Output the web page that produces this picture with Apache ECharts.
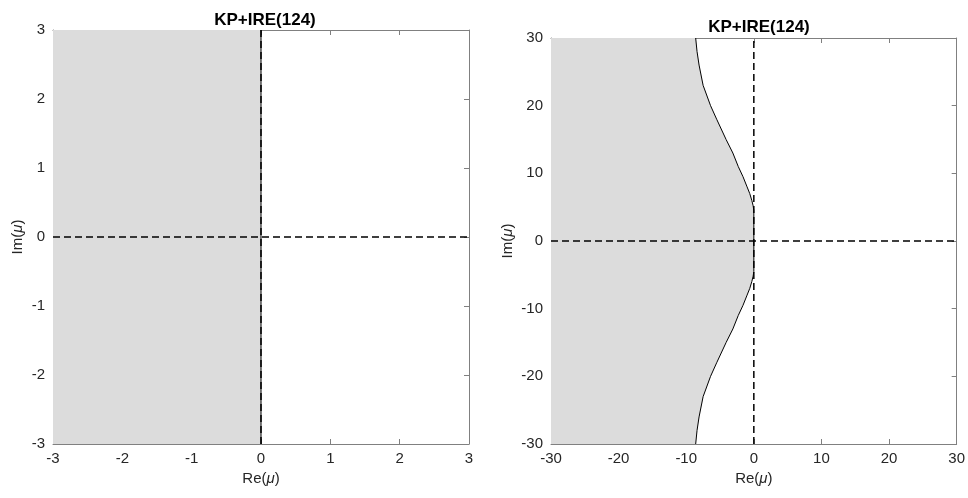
<!DOCTYPE html>
<html>
<head>
<meta charset="utf-8">
<script src="https://cdn.jsdelivr.net/npm/echarts@6/dist/echarts.min.js"></script>
<style>html,body{margin:0;padding:0;background:#fff}#c{width:968px;height:498px}</style>
</head>
<body>
<div id="c"></div>
<script>
// ---- data ----
const titles = ['KP+IRE(124)', 'KP+IRE(124)'];
const leftTicks = [-3, -2, -1, 0, 1, 2, 3];
const rightTicks = [-30, -20, -10, 0, 10, 20, 30];
// left panel: stability boundary (Re, Im)
const leftBoundRe = [0, 0];
const leftBoundIm = [-3, 3];
// right panel: stability boundary curve (Re, Im)
const rightBoundIm = [-30, -28, -26, -23, -20, -18, -15, -13, -11, -9.5, -8, -7, -6, -5.2, -4.5, 0, 4.5, 5.2, 6, 7, 8, 9.5, 11, 13, 15, 18, 20, 23, 26, 28, 30];
const rightBoundRe = [-8.6, -8.4, -8.1, -7.5, -6.4, -5.5, -4.1, -3.1, -2.3, -1.6, -1.0, -0.6, -0.3, -0.1, 0, 0, 0, -0.1, -0.3, -0.6, -1.0, -1.6, -2.3, -3.1, -4.1, -5.5, -6.4, -7.5, -8.1, -8.4, -8.6];

const FONT = '"Liberation Sans", Arial, sans-serif';
const AX = '#808080';
const TXT = '#262626';
const FS = 15;

function pairs(xs, ys) { return xs.map((x, i) => [x, ys[i]]); }

function fillSeries(xi, boundRe, boundIm, xmin) {
  const polyX = boundRe.concat([xmin, xmin]);
  const polyY = boundIm.concat([boundIm[boundIm.length - 1], boundIm[0]]);
  return {
    type: 'custom', xAxisIndex: xi, yAxisIndex: xi, silent: true, z: 1,
    data: [[0, 0]],
    renderItem: function (params, api) {
      const pts = polyX.map((x, i) => api.coord([x, polyY[i]]));
      return { type: 'polygon', shape: { points: pts }, style: { fill: '#dcdcdc' } };
    }
  };
}
function lineSeries(xi, data, dashed, width, z) {
  return {
    type: 'line', xAxisIndex: xi, yAxisIndex: xi, data: data, symbol: 'none', silent: true, z: z,
    lineStyle: { color: '#000', width: width, type: dashed ? [7, 4] : 'solid' }
  };
}
const nameStyle = { color: TXT, fontSize: FS, fontFamily: FONT, rich: { i: { fontStyle: 'italic', fontSize: FS, fontFamily: FONT, color: TXT } } };
function mainX(gi, lim, gap) {
  return {
    type: 'value', gridIndex: gi, position: 'bottom', min: -lim, max: lim, interval: lim / 3,
    name: 'Re({i|μ})', nameLocation: 'middle', nameGap: gap, nameTextStyle: nameStyle,
    axisLine: { show: true, onZero: false, lineStyle: { color: AX, width: 1 } },
    axisTick: { show: true, inside: true, length: 5, lineStyle: { color: AX } },
    axisLabel: { color: TXT, fontSize: FS, fontFamily: FONT, margin: 7, showMinLabel: true, showMaxLabel: true },
    splitLine: { show: false }
  };
}
function topX(gi, lim) {
  return {
    type: 'value', gridIndex: gi, position: 'top', min: -lim, max: lim, interval: lim / 3,
    axisLine: { show: true, onZero: false, lineStyle: { color: AX, width: 1 } },
    axisTick: { show: true, inside: true, length: 5, lineStyle: { color: AX } },
    axisLabel: { show: false }, splitLine: { show: false }
  };
}
function mainY(gi, lim, gap) {
  return {
    type: 'value', gridIndex: gi, position: 'left', min: -lim, max: lim, interval: lim / 3,
    name: 'Im({i|μ})', nameLocation: 'middle', nameGap: gap, nameRotate: 90, nameTextStyle: nameStyle,
    axisLine: { show: true, onZero: false, lineStyle: { color: AX, width: 1 } },
    axisTick: { show: true, inside: true, length: 5, lineStyle: { color: AX } },
    axisLabel: { color: TXT, fontSize: FS, fontFamily: FONT, margin: 8, showMinLabel: true, showMaxLabel: true },
    splitLine: { show: false }
  };
}
function rightY(gi, lim) {
  return {
    type: 'value', gridIndex: gi, position: 'right', min: -lim, max: lim, interval: lim / 3,
    axisLine: { show: true, onZero: false, lineStyle: { color: AX, width: 1 } },
    axisTick: { show: true, inside: true, length: 5, lineStyle: { color: AX } },
    axisLabel: { show: false }, splitLine: { show: false }
  };
}

const chart = echarts.init(document.getElementById('c'), null, { renderer: 'canvas' });
chart.setOption({
  animation: false,
  backgroundColor: '#fff',
  title: [
    { text: titles[0], left: 260, top: 7, textAlign: 'center', textStyle: { fontSize: 17, fontWeight: 'bold', color: '#000', fontFamily: FONT } },
    { text: titles[1], left: 754, top: 14, textAlign: 'center', textStyle: { fontSize: 17, fontWeight: 'bold', color: '#000', fontFamily: FONT } }
  ],
  grid: [
    { left: 53, top: 30, width: 416, height: 414 },
    { left: 551, top: 38, width: 407, height: 406 }
  ],
  xAxis: [mainX(0, leftTicks[leftTicks.length - 1], 26), topX(0, 3), mainX(1, rightTicks[rightTicks.length - 1], 26), topX(1, 30)],
  yAxis: [mainY(0, leftTicks[leftTicks.length - 1], 28), rightY(0, 3), mainY(1, rightTicks[rightTicks.length - 1], 36), rightY(1, 30)],
  series: [
    fillSeries(0, leftBoundRe, leftBoundIm, -3),
    lineSeries(0, pairs(leftBoundRe, leftBoundIm), false, 1, 3),
    lineSeries(0, [[-3, 0], [3, 0]], true, 1.5, 4),
    lineSeries(0, [[0, -3], [0, 3]], true, 1.5, 4),
    fillSeries(2, rightBoundRe, rightBoundIm, -30),
    lineSeries(2, pairs(rightBoundRe, rightBoundIm), false, 1, 3),
    lineSeries(2, [[-30, 0], [30, 0]], true, 1.5, 4),
    lineSeries(2, [[0, -30], [0, 30]], true, 1.5, 4)
  ]
});
</script>
</body>
</html>
